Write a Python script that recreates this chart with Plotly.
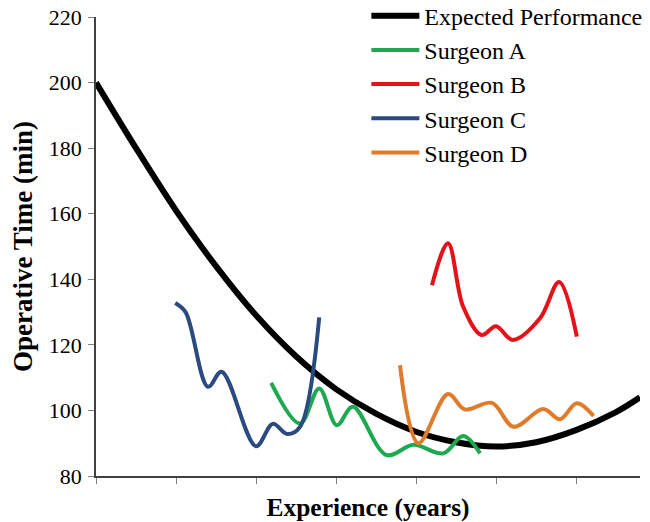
import plotly.graph_objects as go

# ---- data (x in experience units, y in minutes) ----
expected_x = [0, 0.5, 1, 1.5, 2, 2.5, 3, 3.5, 4, 4.5, 5, 5.5, 6, 6.5, 6.8]
expected_y = [200, 180, 161, 144, 129, 116.5, 106.5, 99, 93.5, 90.3, 89, 90.3, 94, 99.5, 104]

surgeon_a_x = [2.19, 2.55, 2.79, 3.01, 3.21, 3.63, 3.97, 4.34, 4.59, 4.8]
surgeon_a_y = [108.4, 96, 106.7, 95.5, 101.1, 86.4, 89.5, 86.9, 92.2, 86.9]

surgeon_b_x = [4.2, 4.4, 4.59, 4.82, 5.0, 5.21, 5.55, 5.79, 6.01]
surgeon_b_y = [138.2, 151, 131.6, 123, 125.7, 121.5, 128.1, 139.2, 122.5]

surgeon_c_x = [0.99, 1.12, 1.40, 1.57, 2.0, 2.21, 2.39, 2.55, 2.79]
surgeon_c_y = [132.8, 130, 107.2, 111.8, 89.1, 95.9, 92.8, 95, 128.4]

surgeon_d_x = [3.8, 4.03, 4.4, 4.61, 4.95, 5.22, 5.59, 5.8, 6.01, 6.22]
surgeon_d_y = [113.8, 90, 105, 100.3, 102.3, 95, 100.4, 97.3, 102.2, 98.3]

x_ticks = [0, 1, 2, 3, 4, 5, 6]
y_ticks = [80, 100, 120, 140, 160, 180, 200, 220]

names = ["Expected Performance", "Surgeon A", "Surgeon B", "Surgeon C", "Surgeon D"]
colors = ["#000000", "#1EA84F", "#E5121A", "#2B4A80", "#DF7B2B"]
widths = [6, 4, 4, 4, 4]
series = [
    (expected_x, expected_y),
    (surgeon_a_x, surgeon_a_y),
    (surgeon_b_x, surgeon_b_y),
    (surgeon_c_x, surgeon_c_y),
    (surgeon_d_x, surgeon_d_y),
]

FONT = "Liberation Serif, Times New Roman, serif"

fig = go.Figure()
for name, color, w, (xs, ys) in zip(names, colors, widths, series):
    fig.add_trace(go.Scatter(
        x=xs, y=ys, name=name, mode="lines",
        line=dict(color=color, width=w, shape="spline", smoothing=1.0),
    ))

# page body has an 8px margin, so the figure is 8px smaller and shifted
fig.update_layout(
    width=642, height=514,
    margin=dict(l=88, r=10, t=9, b=46, autoexpand=False),
    paper_bgcolor="white", plot_bgcolor="white",
    font=dict(family=FONT, size=22, color="black"),
    showlegend=True,
    legend=dict(
        x=0.497, y=1.051, xanchor="left", yanchor="top",
        font=dict(family=FONT, size=24, color="black"),
        bgcolor="rgba(0,0,0,0)", itemwidth=48, tracegroupgap=0,
    ),
    xaxis=dict(
        range=[0, 6.8], tickvals=x_ticks, showticklabels=False,
        ticks="outside", ticklen=6, tickcolor="#808080", tickwidth=1,
        showline=True, linecolor="#404040", linewidth=1.5,
        showgrid=False, zeroline=False, automargin=False,
        title=dict(text="<b>Experience (years)</b>", standoff=17,
                   font=dict(family=FONT, size=25.5, color="black")),
    ),
    yaxis=dict(
        range=[80, 220], tickvals=y_ticks,
        ticks="outside", ticklen=6, tickcolor="#808080", tickwidth=1,
        ticklabelstandoff=2, ticklabeloverflow="allow",
        showline=True, linecolor="#404040", linewidth=1.5,
        showgrid=False, zeroline=False, automargin=False,
        title=dict(text="<b>Operative Time (min)</b>", standoff=13,
                   font=dict(family=FONT, size=27, color="black")),
    ),
)

fig.write_html("out.html")
